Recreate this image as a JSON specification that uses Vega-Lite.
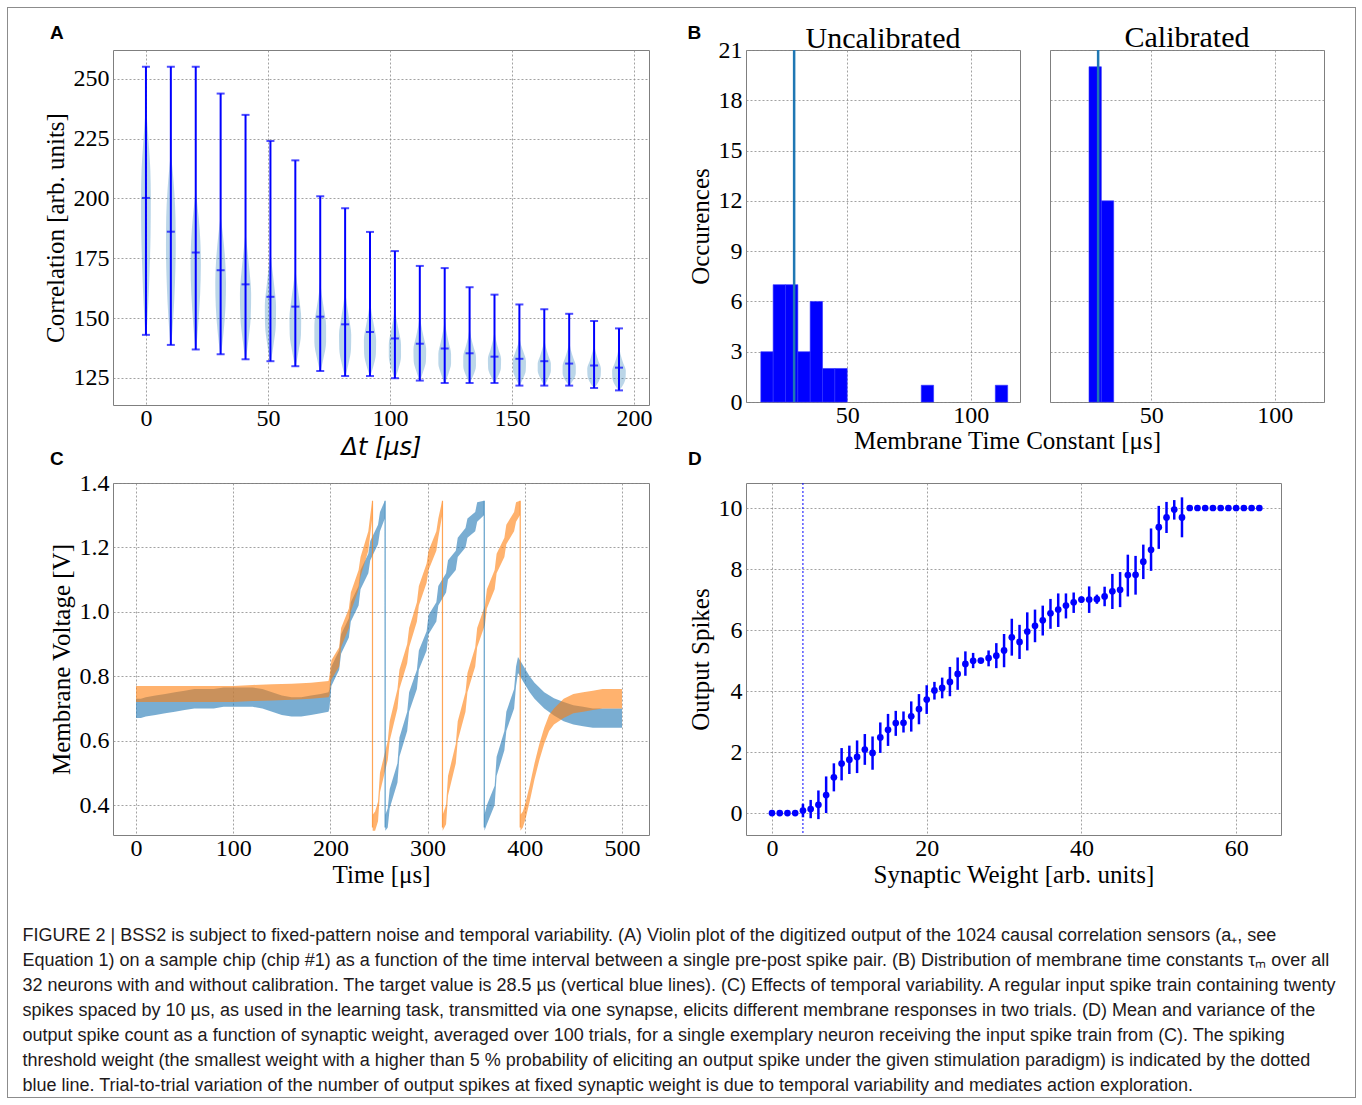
{
  "$schema": "https://vega.github.io/schema/vega-lite/v6.json",
  "padding": {"left": 7, "top": 7, "right": 4, "bottom": 2},
  "background": "white",
  "datasets": {
    "vio": [
      {"t":0,"v":143,"lo":-0.2,"hi":0.2},{"t":0,"v":155,"lo":-0.9,"hi":0.9},{"t":0,"v":170,"lo":-1.5,"hi":1.5},{"t":0,"v":185,"lo":-1.9,"hi":1.9},{"t":0,"v":200,"lo":-2,"hi":2},{"t":0,"v":212,"lo":-1.8,"hi":1.8},{"t":0,"v":222,"lo":-1.2,"hi":1.2},{"t":0,"v":232,"lo":-0.5,"hi":0.5},{"t":0,"v":238,"lo":-0.1,"hi":0.1},
      {"t":10.2,"v":139,"lo":10.0,"hi":10.4},{"t":10.2,"v":150,"lo":9.2,"hi":11.2},{"t":10.2,"v":165,"lo":8.5,"hi":11.9},{"t":10.2,"v":180,"lo":8.2,"hi":12.2},{"t":10.2,"v":192,"lo":8.3,"hi":12.1},{"t":10.2,"v":203,"lo":8.8,"hi":11.6},{"t":10.2,"v":212,"lo":9.5,"hi":10.9},{"t":10.2,"v":218,"lo":10.1,"hi":10.3},
      {"t":20.4,"v":137,"lo":20.2,"hi":20.6},{"t":20.4,"v":147,"lo":19.4,"hi":21.4},{"t":20.4,"v":160,"lo":18.6,"hi":22.2},{"t":20.4,"v":172,"lo":18.3,"hi":22.5},{"t":20.4,"v":182,"lo":18.5,"hi":22.3},{"t":20.4,"v":192,"lo":19.2,"hi":21.6},{"t":20.4,"v":200,"lo":20.0,"hi":20.8},{"t":20.4,"v":204,"lo":20.3,"hi":20.5},
      {"t":30.6,"v":135,"lo":30.4,"hi":30.8},{"t":30.6,"v":144,"lo":29.4,"hi":31.8},{"t":30.6,"v":155,"lo":28.6,"hi":32.6},{"t":30.6,"v":165,"lo":28.4,"hi":32.8},{"t":30.6,"v":175,"lo":28.8,"hi":32.4},{"t":30.6,"v":185,"lo":29.7,"hi":31.5},{"t":30.6,"v":192,"lo":30.5,"hi":30.7},
      {"t":40.8,"v":133,"lo":40.6,"hi":41.0},{"t":40.8,"v":141,"lo":39.6,"hi":42.0},{"t":40.8,"v":150,"lo":38.7,"hi":42.9},{"t":40.8,"v":160,"lo":38.5,"hi":43.1},{"t":40.8,"v":170,"lo":39.2,"hi":42.4},{"t":40.8,"v":178,"lo":40.0,"hi":41.6},{"t":40.8,"v":185,"lo":40.7,"hi":40.9},
      {"t":51,"v":132,"lo":50.8,"hi":51.2},{"t":51,"v":139,"lo":49.7,"hi":52.3},{"t":51,"v":147,"lo":48.8,"hi":53.2},{"t":51,"v":155,"lo":48.7,"hi":53.3},{"t":51,"v":163,"lo":49.4,"hi":52.6},{"t":51,"v":171,"lo":50.3,"hi":51.7},{"t":51,"v":177,"lo":50.9,"hi":51.1},
      {"t":61.2,"v":130,"lo":61.0,"hi":61.4},{"t":61.2,"v":136,"lo":59.9,"hi":62.5},{"t":61.2,"v":143,"lo":58.9,"hi":63.5},{"t":61.2,"v":150,"lo":58.8,"hi":63.6},{"t":61.2,"v":158,"lo":59.6,"hi":62.8},{"t":61.2,"v":164,"lo":60.4,"hi":62.0},{"t":61.2,"v":170,"lo":61.1,"hi":61.3},
      {"t":71.4,"v":128,"lo":71.2,"hi":71.6},{"t":71.4,"v":133,"lo":70.1,"hi":72.7},{"t":71.4,"v":140,"lo":69.0,"hi":73.8},{"t":71.4,"v":147,"lo":69.0,"hi":73.8},{"t":71.4,"v":154,"lo":69.9,"hi":72.9},{"t":71.4,"v":160,"lo":70.8,"hi":72.0},{"t":71.4,"v":165,"lo":71.3,"hi":71.5},
      {"t":81.6,"v":126,"lo":81.4,"hi":81.8},{"t":81.6,"v":131,"lo":80.2,"hi":83.0},{"t":81.6,"v":137,"lo":79.2,"hi":84.0},{"t":81.6,"v":143,"lo":79.1,"hi":84.1},{"t":81.6,"v":150,"lo":80.0,"hi":83.2},{"t":81.6,"v":156,"lo":80.9,"hi":82.3},{"t":81.6,"v":161,"lo":81.5,"hi":81.7},
      {"t":91.8,"v":126,"lo":91.6,"hi":92.0},{"t":91.8,"v":130,"lo":90.4,"hi":93.2},{"t":91.8,"v":135,"lo":89.4,"hi":94.2},{"t":91.8,"v":141,"lo":89.3,"hi":94.3},{"t":91.8,"v":147,"lo":90.2,"hi":93.4},{"t":91.8,"v":152,"lo":91.1,"hi":92.5},{"t":91.8,"v":157,"lo":91.7,"hi":91.9},
      {"t":102,"v":125,"lo":101.8,"hi":102.2},{"t":102,"v":129,"lo":100.5,"hi":103.5},{"t":102,"v":134,"lo":99.5,"hi":104.5},{"t":102,"v":139,"lo":99.5,"hi":104.5},{"t":102,"v":145,"lo":100.5,"hi":103.5},{"t":102,"v":150,"lo":101.4,"hi":102.6},{"t":102,"v":154,"lo":101.9,"hi":102.1},
      {"t":112.2,"v":124,"lo":112.0,"hi":112.4},{"t":112.2,"v":128,"lo":110.7,"hi":113.7},{"t":112.2,"v":132,"lo":109.7,"hi":114.7},{"t":112.2,"v":137,"lo":109.6,"hi":114.8},{"t":112.2,"v":142,"lo":110.6,"hi":113.8},{"t":112.2,"v":147,"lo":111.6,"hi":112.8},{"t":112.2,"v":151,"lo":112.1,"hi":112.3},
      {"t":122.4,"v":123,"lo":122.2,"hi":122.6},{"t":122.4,"v":127,"lo":120.8,"hi":124.0},{"t":122.4,"v":131,"lo":119.8,"hi":125.0},{"t":122.4,"v":135,"lo":119.8,"hi":125.0},{"t":122.4,"v":140,"lo":120.8,"hi":124.0},{"t":122.4,"v":145,"lo":121.8,"hi":123.0},{"t":122.4,"v":149,"lo":122.3,"hi":122.5},
      {"t":132.6,"v":123,"lo":132.4,"hi":132.8},{"t":132.6,"v":126,"lo":131.1,"hi":134.1},{"t":132.6,"v":130,"lo":130.0,"hi":135.2},{"t":132.6,"v":134,"lo":130.0,"hi":135.2},{"t":132.6,"v":138,"lo":131.0,"hi":134.2},{"t":132.6,"v":142,"lo":132.0,"hi":133.2},{"t":132.6,"v":146,"lo":132.5,"hi":132.7},
      {"t":142.8,"v":123,"lo":142.6,"hi":143.0},{"t":142.8,"v":126,"lo":141.2,"hi":144.4},{"t":142.8,"v":129,"lo":140.2,"hi":145.4},{"t":142.8,"v":133,"lo":140.1,"hi":145.5},{"t":142.8,"v":137,"lo":141.2,"hi":144.4},{"t":142.8,"v":141,"lo":142.2,"hi":143.4},{"t":142.8,"v":144,"lo":142.7,"hi":142.9},
      {"t":153,"v":122,"lo":152.8,"hi":153.2},{"t":153,"v":125,"lo":151.4,"hi":154.6},{"t":153,"v":128,"lo":150.4,"hi":155.6},{"t":153,"v":132,"lo":150.3,"hi":155.7},{"t":153,"v":136,"lo":151.4,"hi":154.6},{"t":153,"v":139,"lo":152.4,"hi":153.6},{"t":153,"v":142,"lo":152.9,"hi":153.1},
      {"t":163.2,"v":122,"lo":163.0,"hi":163.4},{"t":163.2,"v":125,"lo":161.5,"hi":164.9},{"t":163.2,"v":128,"lo":160.5,"hi":165.9},{"t":163.2,"v":131,"lo":160.5,"hi":165.9},{"t":163.2,"v":134,"lo":161.4,"hi":165.0},{"t":163.2,"v":138,"lo":162.6,"hi":163.8},{"t":163.2,"v":141,"lo":163.1,"hi":163.3},
      {"t":173.4,"v":122,"lo":173.2,"hi":173.6},{"t":173.4,"v":124,"lo":171.8,"hi":175.0},{"t":173.4,"v":127,"lo":170.7,"hi":176.1},{"t":173.4,"v":130,"lo":170.7,"hi":176.1},{"t":173.4,"v":133,"lo":171.6,"hi":175.2},{"t":173.4,"v":137,"lo":172.8,"hi":174.0},{"t":173.4,"v":140,"lo":173.3,"hi":173.5},
      {"t":183.6,"v":121,"lo":183.4,"hi":183.8},{"t":183.6,"v":123,"lo":182.0,"hi":185.2},{"t":183.6,"v":126,"lo":180.9,"hi":186.3},{"t":183.6,"v":129,"lo":180.8,"hi":186.4},{"t":183.6,"v":132,"lo":181.8,"hi":185.4},{"t":183.6,"v":136,"lo":183.0,"hi":184.2},{"t":183.6,"v":139,"lo":183.5,"hi":183.7},
      {"t":193.8,"v":120,"lo":193.6,"hi":194.0},{"t":193.8,"v":122,"lo":192.2,"hi":195.4},{"t":193.8,"v":125,"lo":191.1,"hi":196.5},{"t":193.8,"v":128,"lo":191.0,"hi":196.6},{"t":193.8,"v":131,"lo":192.0,"hi":195.6},{"t":193.8,"v":135,"lo":193.2,"hi":194.4},{"t":193.8,"v":138,"lo":193.7,"hi":193.9}
    ],
    "stat": [
      {"t":0,"min":143,"max":255,"mean":200.2},
      {"t":10.2,"min":138.8,"max":255,"mean":186.1},
      {"t":20.4,"min":136.9,"max":255,"mean":177.4},
      {"t":30.6,"min":134.9,"max":243.8,"mean":170},
      {"t":40.8,"min":132.8,"max":234.9,"mean":164.1},
      {"t":51,"min":132,"max":224,"mean":158.9},
      {"t":61.2,"min":129.9,"max":215.9,"mean":154.8},
      {"t":71.4,"min":127.9,"max":200.9,"mean":150.6},
      {"t":81.6,"min":125.8,"max":195.9,"mean":147.4},
      {"t":91.8,"min":125.8,"max":186,"mean":144.2},
      {"t":102,"min":124.9,"max":178,"mean":141.5},
      {"t":112.2,"min":123.9,"max":171.8,"mean":139.3},
      {"t":122.4,"min":122.9,"max":170.9,"mean":137.3},
      {"t":132.6,"min":122.9,"max":162.9,"mean":135.3},
      {"t":142.8,"min":122.9,"max":159.8,"mean":133.9},
      {"t":153,"min":121.8,"max":155.7,"mean":133},
      {"t":163.2,"min":121.8,"max":153.7,"mean":132},
      {"t":173.4,"min":121.8,"max":151.8,"mean":131},
      {"t":183.6,"min":120.8,"max":148.8,"mean":130.2},
      {"t":193.8,"min":119.8,"max":145.7,"mean":129.3}
    ],
    "unc": [
      {"a":15,"b":20,"n":3},{"a":20,"b":25,"n":7},{"a":25,"b":30,"n":7},{"a":30,"b":35,"n":3},{"a":35,"b":40,"n":6},{"a":40,"b":45,"n":2},{"a":45,"b":50,"n":2},{"a":80,"b":85,"n":1},{"a":110,"b":115,"n":1}
    ],
    "cal": [
      {"a":24.8,"b":29.8,"n":20},{"a":29.8,"b":34.8,"n":12}
    ],
    "drops": [
      {"t":243.3,"tr":"b2","lo":0.33,"hi":1.345},
      {"t":256.3,"tr":"b1","lo":0.33,"hi":1.345},
      {"t":315.3,"tr":"b2","lo":0.33,"hi":1.345},
      {"t":358.3,"tr":"b1","lo":0.33,"hi":1.345},
      {"t":395.3,"tr":"b2","lo":0.33,"hi":1.345}
    ],
    "c1": [
      {"t":0,"lo":0.67,"hi":0.73},{"t":5,"lo":0.67,"hi":0.73},{"t":10,"lo":0.675,"hi":0.735},{"t":20,"lo":0.68,"hi":0.74},{"t":30,"lo":0.685,"hi":0.745},{"t":40,"lo":0.69,"hi":0.75},{"t":50,"lo":0.695,"hi":0.755},{"t":60,"lo":0.7,"hi":0.76},{"t":70,"lo":0.7,"hi":0.76},{"t":80,"lo":0.7,"hi":0.76},{"t":90,"lo":0.705,"hi":0.765},{"t":100,"lo":0.705,"hi":0.765},{"t":110,"lo":0.705,"hi":0.765},{"t":120,"lo":0.705,"hi":0.765},{"t":130,"lo":0.7,"hi":0.76},{"t":140,"lo":0.69,"hi":0.75},{"t":150,"lo":0.68,"hi":0.74},{"t":160,"lo":0.675,"hi":0.735},{"t":170,"lo":0.675,"hi":0.735},{"t":180,"lo":0.68,"hi":0.74},{"t":190,"lo":0.685,"hi":0.745},{"t":198,"lo":0.69,"hi":0.75},
      {"t":199,"lo":0.7,"hi":0.76},{"t":201,"lo":0.77,"hi":0.83},{"t":209,"lo":0.82,"hi":0.88},{"t":211,"lo":0.87,"hi":0.93},{"t":219,"lo":0.92,"hi":0.98},{"t":221,"lo":0.97,"hi":1.03},{"t":229,"lo":1.02,"hi":1.08},{"t":231,"lo":1.07,"hi":1.13},{"t":239,"lo":1.12,"hi":1.18},{"t":241,"lo":1.16,"hi":1.22},{"t":249,"lo":1.21,"hi":1.27},{"t":251,"lo":1.25,"hi":1.31},{"t":256,"lo":1.29,"hi":1.345},
      {"t":256.5,"lo":0.32,"hi":0.37},{"t":259,"lo":0.33,"hi":0.39},{"t":261,"lo":0.39,"hi":0.45},{"t":269,"lo":0.47,"hi":0.53},{"t":271,"lo":0.55,"hi":0.61},{"t":279,"lo":0.63,"hi":0.69},{"t":281,"lo":0.69,"hi":0.75},{"t":289,"lo":0.76,"hi":0.82},{"t":291,"lo":0.82,"hi":0.88},{"t":299,"lo":0.88,"hi":0.94},{"t":301,"lo":0.93,"hi":0.99},{"t":309,"lo":0.97,"hi":1.03},{"t":311,"lo":1.02,"hi":1.08},{"t":319,"lo":1.06,"hi":1.12},{"t":321,"lo":1.1,"hi":1.16},{"t":329,"lo":1.13,"hi":1.19},{"t":331,"lo":1.17,"hi":1.23},{"t":339,"lo":1.2,"hi":1.26},{"t":341,"lo":1.23,"hi":1.29},{"t":349,"lo":1.25,"hi":1.31},{"t":351,"lo":1.28,"hi":1.34},{"t":358,"lo":1.3,"hi":1.345},
      {"t":358.5,"lo":0.32,"hi":0.37},{"t":361,"lo":0.34,"hi":0.4},{"t":369,"lo":0.4,"hi":0.46},{"t":371,"lo":0.49,"hi":0.55},{"t":379,"lo":0.57,"hi":0.63},{"t":381,"lo":0.63,"hi":0.69},{"t":389,"lo":0.7,"hi":0.76},{"t":391,"lo":0.77,"hi":0.83},{"t":393,"lo":0.81,"hi":0.86},{"t":396,"lo":0.795,"hi":0.845},{"t":400,"lo":0.775,"hi":0.825},{"t":405,"lo":0.75,"hi":0.8},{"t":410,"lo":0.73,"hi":0.78},{"t":420,"lo":0.7,"hi":0.75},{"t":430,"lo":0.678,"hi":0.732},{"t":440,"lo":0.66,"hi":0.72},{"t":450,"lo":0.65,"hi":0.71},{"t":460,"lo":0.645,"hi":0.705},{"t":470,"lo":0.64,"hi":0.7},{"t":480,"lo":0.64,"hi":0.7},{"t":490,"lo":0.64,"hi":0.7},{"t":500,"lo":0.64,"hi":0.7}
    ],
    "c2": [
      {"t":0,"lo":0.72,"hi":0.77},{"t":10,"lo":0.72,"hi":0.77},{"t":20,"lo":0.72,"hi":0.77},{"t":40,"lo":0.72,"hi":0.77},{"t":60,"lo":0.72,"hi":0.77},{"t":80,"lo":0.72,"hi":0.77},{"t":100,"lo":0.72,"hi":0.77},{"t":120,"lo":0.723,"hi":0.773},{"t":140,"lo":0.725,"hi":0.775},{"t":160,"lo":0.727,"hi":0.777},{"t":180,"lo":0.73,"hi":0.78},{"t":198,"lo":0.735,"hi":0.785},
      {"t":199,"lo":0.74,"hi":0.8},{"t":201,"lo":0.79,"hi":0.85},{"t":209,"lo":0.83,"hi":0.89},{"t":211,"lo":0.89,"hi":0.95},{"t":219,"lo":0.95,"hi":1.01},{"t":221,"lo":1.0,"hi":1.06},{"t":229,"lo":1.07,"hi":1.13},{"t":231,"lo":1.11,"hi":1.17},{"t":239,"lo":1.19,"hi":1.25},{"t":241,"lo":1.24,"hi":1.3},{"t":243,"lo":1.29,"hi":1.345},
      {"t":243.5,"lo":0.32,"hi":0.37},{"t":246,"lo":0.32,"hi":0.38},{"t":249,"lo":0.35,"hi":0.41},{"t":251,"lo":0.44,"hi":0.5},{"t":259,"lo":0.54,"hi":0.6},{"t":261,"lo":0.6,"hi":0.66},{"t":269,"lo":0.7,"hi":0.76},{"t":271,"lo":0.76,"hi":0.82},{"t":279,"lo":0.84,"hi":0.9},{"t":281,"lo":0.89,"hi":0.95},{"t":289,"lo":0.97,"hi":1.03},{"t":291,"lo":1.02,"hi":1.08},{"t":299,"lo":1.09,"hi":1.15},{"t":301,"lo":1.13,"hi":1.19},{"t":309,"lo":1.19,"hi":1.25},{"t":311,"lo":1.23,"hi":1.29},{"t":315,"lo":1.3,"hi":1.345},
      {"t":315.5,"lo":0.32,"hi":0.37},{"t":319,"lo":0.34,"hi":0.4},{"t":321,"lo":0.43,"hi":0.49},{"t":329,"lo":0.53,"hi":0.59},{"t":331,"lo":0.6,"hi":0.66},{"t":339,"lo":0.69,"hi":0.75},{"t":341,"lo":0.75,"hi":0.81},{"t":349,"lo":0.83,"hi":0.89},{"t":351,"lo":0.89,"hi":0.95},{"t":359,"lo":0.96,"hi":1.02},{"t":361,"lo":1.01,"hi":1.07},{"t":369,"lo":1.07,"hi":1.13},{"t":371,"lo":1.12,"hi":1.18},{"t":379,"lo":1.17,"hi":1.23},{"t":381,"lo":1.21,"hi":1.27},{"t":389,"lo":1.25,"hi":1.31},{"t":391,"lo":1.28,"hi":1.34},{"t":395,"lo":1.3,"hi":1.345},
      {"t":395.5,"lo":0.32,"hi":0.37},{"t":398,"lo":0.33,"hi":0.38},{"t":401,"lo":0.36,"hi":0.41},{"t":405,"lo":0.41,"hi":0.46},{"t":410,"lo":0.48,"hi":0.53},{"t":415,"lo":0.54,"hi":0.59},{"t":420,"lo":0.59,"hi":0.64},{"t":425,"lo":0.63,"hi":0.68},{"t":430,"lo":0.65,"hi":0.7},{"t":440,"lo":0.67,"hi":0.73},{"t":450,"lo":0.685,"hi":0.745},{"t":460,"lo":0.69,"hi":0.75},{"t":470,"lo":0.695,"hi":0.755},{"t":480,"lo":0.7,"hi":0.76},{"t":490,"lo":0.7,"hi":0.76},{"t":500,"lo":0.7,"hi":0.76}
    ],
    "d": [
      {"w":0,"m":0,"lo":0,"hi":0},{"w":1,"m":0,"lo":0,"hi":0},{"w":2,"m":0,"lo":0,"hi":0},{"w":3,"m":0,"lo":0,"hi":0},
      {"w":4,"m":0.08,"lo":-0.14,"hi":0.3},{"w":5,"m":0.13,"lo":-0.17,"hi":0.43},{"w":6,"m":0.27,"lo":-0.2,"hi":0.74},{"w":7,"m":0.59,"lo":0,"hi":1.2},
      {"w":8,"m":1.17,"lo":0.71,"hi":1.63},{"w":9,"m":1.62,"lo":1.07,"hi":2.13},{"w":10,"m":1.75,"lo":1.28,"hi":2.21},{"w":11,"m":1.84,"lo":1.31,"hi":2.38},
      {"w":12,"m":2.08,"lo":1.58,"hi":2.59},{"w":13,"m":1.97,"lo":1.42,"hi":2.51},{"w":14,"m":2.48,"lo":1.97,"hi":2.97},{"w":15,"m":2.73,"lo":2.2,"hi":3.25},
      {"w":16,"m":2.95,"lo":2.53,"hi":3.35},{"w":17,"m":2.96,"lo":2.64,"hi":3.33},{"w":18,"m":3.17,"lo":2.67,"hi":3.66},{"w":19,"m":3.41,"lo":2.91,"hi":3.9},
      {"w":20,"m":3.72,"lo":3.25,"hi":4.19},{"w":21,"m":4.02,"lo":3.72,"hi":4.3},{"w":22,"m":4.1,"lo":3.76,"hi":4.44},{"w":23,"m":4.3,"lo":3.83,"hi":4.79},
      {"w":24,"m":4.56,"lo":4.04,"hi":5.1},{"w":25,"m":4.89,"lo":4.5,"hi":5.3},{"w":26,"m":4.99,"lo":4.75,"hi":5.25},{"w":27,"m":5.0,"lo":4.92,"hi":5.08},
      {"w":28,"m":5.08,"lo":4.81,"hi":5.33},{"w":29,"m":5.16,"lo":4.75,"hi":5.57},{"w":30,"m":5.33,"lo":4.78,"hi":5.87},{"w":31,"m":5.76,"lo":5.16,"hi":6.37},
      {"w":32,"m":5.61,"lo":5.05,"hi":6.17},{"w":33,"m":5.95,"lo":5.33,"hi":6.58},{"w":34,"m":6.14,"lo":5.6,"hi":6.67},{"w":35,"m":6.32,"lo":5.82,"hi":6.8},
      {"w":36,"m":6.55,"lo":6.04,"hi":7.02},{"w":37,"m":6.67,"lo":6.1,"hi":7.2},{"w":38,"m":6.8,"lo":6.38,"hi":7.2},{"w":39,"m":6.91,"lo":6.56,"hi":7.23},
      {"w":40,"m":7.0,"lo":6.89,"hi":7.1},{"w":41,"m":7.0,"lo":6.56,"hi":7.43},{"w":42,"m":7.01,"lo":6.86,"hi":7.16},{"w":43,"m":7.1,"lo":6.78,"hi":7.42},
      {"w":44,"m":7.27,"lo":6.69,"hi":7.84},{"w":45,"m":7.32,"lo":6.75,"hi":7.9},{"w":46,"m":7.8,"lo":7.1,"hi":8.47},{"w":47,"m":7.81,"lo":7.16,"hi":8.43},
      {"w":48,"m":8.24,"lo":7.67,"hi":8.8},{"w":49,"m":8.63,"lo":7.94,"hi":9.33},{"w":50,"m":9.37,"lo":8.66,"hi":10.07},{"w":51,"m":9.69,"lo":9.18,"hi":10.2},
      {"w":52,"m":9.95,"lo":9.62,"hi":10.26},{"w":53,"m":9.69,"lo":9.04,"hi":10.35},{"w":54,"m":10,"lo":10,"hi":10},{"w":55,"m":10,"lo":10,"hi":10},
      {"w":56,"m":10,"lo":10,"hi":10},{"w":57,"m":10,"lo":9.95,"hi":10.05},{"w":58,"m":10,"lo":10,"hi":10},{"w":59,"m":10,"lo":10,"hi":10},
      {"w":60,"m":10,"lo":9.96,"hi":10.04},{"w":61,"m":10,"lo":10,"hi":10},{"w":62,"m":10,"lo":10,"hi":10},{"w":63,"m":10,"lo":10,"hi":10}
    ]
  },
  "spacing": 0,
  "bounds": "flush",
  "vconcat": [
    {
      "width": 1349,
      "height": 1,
      "data": {"values": []},
      "mark": "point",
      "view": {"fill": "#8c8c8c", "stroke": null}
    },
    {
      "spacing": 1089,
      "bounds": "flush",
      "vconcat": [
        {
          "spacing": 105,
          "bounds": "flush",
          "hconcat": [
            {
              "width": 1,
              "height": 1090,
              "data": {"values": []},
              "mark": "point",
              "view": {"fill": "#8c8c8c", "stroke": null}
            },
            {
              "spacing": 1242,
              "bounds": "flush",
              "hconcat": [
                {
                  "spacing": 41,
                  "bounds": "flush",
                  "vconcat": [
                    {
                      "width": 1,
                      "height": 1,
                      "data": {"values": []},
                      "mark": "point",
                      "view": {"stroke": null}
                    },
                    {
                      "title": {
                        "text": [
                          "FIGURE 2 | BSS2 is subject to fixed-pattern noise and temporal variability. (A) Violin plot of the digitized output of the 1024 causal correlation sensors (a₊, see",
                          "Equation 1) on a sample chip (chip #1) as a function of the time interval between a single pre-post spike pair. (B) Distribution of membrane time constants τₘ over all",
                          "32 neurons with and without calibration. The target value is 28.5 µs (vertical blue lines). (C) Effects of temporal variability. A regular input spike train containing twenty",
                          "spikes spaced by 10 µs, as used in the learning task, transmitted via one synapse, elicits different membrane responses in two trials. (D) Mean and variance of the",
                          "output spike count as a function of synaptic weight, averaged over 100 trials, for a single exemplary neuron receiving the input spike train from (C). The spiking",
                          "threshold weight (the smallest weight with a higher than 5 % probability of eliciting an output spike under the given stimulation paradigm) is indicated by the dotted",
                          "blue line. Trial-to-trial variation of the number of output spikes at fixed synaptic weight is due to temporal variability and mediates action exploration."
                        ],
                        "orient": "bottom",
                        "anchor": "start",
                        "frame": "bounds",
                        "font": "Liberation Sans",
                        "fontSize": 18,
                        "fontWeight": "normal",
                        "color": "#1e1a1b",
                        "lineHeight": 25,
                        "baseline": "top",
                        "offset": 39,
                        "dx": -20
                      },
                      "columns": 2,
                      "spacing": {"row": 78, "column": 97},
                      "bounds": "flush",
                      "concat": [
                        {
                          "width": 536,
                          "height": 355,
                          "title": {"text": "A", "anchor": "start", "frame": "group", "dx": -63, "offset": 7, "font": "Liberation Sans", "fontSize": 19, "fontWeight": "bold", "color": "#000"},
                          "layer": [
                            {
                              "data": {"name": "vio"},
                              "mark": {"type": "area", "orient": "horizontal", "color": "#1f77b4", "opacity": 0.3, "interpolate": "monotone"},
                              "encoding": {
                                "y": {"field": "v", "type": "quantitative", "title": "Correlation [arb. units]", "scale": {"domain": [113.7, 262], "nice": false, "zero": false}, "axis": {"values": [125, 150, 175, 200, 225, 250]}},
                                "x": {"field": "lo", "type": "quantitative", "title": "Δt [μs]", "scale": {"domain": [-13.5, 206.1], "nice": false, "zero": false}, "axis": {"values": [0, 50, 100, 150, 200], "titleFont": "DejaVu Sans", "titleFontStyle": "italic", "titleFontSize": 24, "titlePadding": 5}},
                                "x2": {"field": "hi"},
                                "detail": {"field": "t", "type": "nominal"}
                              }
                            },
                            {
                              "data": {"name": "stat"},
                              "mark": {"type": "rule", "color": "#0000ff", "strokeWidth": 2},
                              "encoding": {
                                "x": {"field": "t", "type": "quantitative", "title": "Δt [μs]"},
                                "y": {"field": "min", "type": "quantitative", "title": "Correlation [arb. units]"},
                                "y2": {"field": "max"}
                              }
                            },
                            {
                              "data": {"name": "stat"},
                              "transform": [{"fold": ["min", "max", "mean"], "as": ["k", "val"]}],
                              "mark": {"type": "tick", "orient": "horizontal", "color": "#0000ff", "size": 8, "thickness": 2},
                              "encoding": {
                                "x": {"field": "t", "type": "quantitative", "title": "Δt [μs]"},
                                "y": {"field": "val", "type": "quantitative", "title": "Correlation [arb. units]"}
                              }
                            }
                          ]
                        },
                        {
                          "title": {"text": "B", "anchor": "start", "frame": "bounds", "dy": 25, "font": "Liberation Sans", "fontSize": 19, "fontWeight": "bold", "color": "#000"},
                          "spacing": 30,
                          "bounds": "flush",
                          "hconcat": [
                            {
                              "width": 274,
                              "height": 352,
                              "title": {"text": "Uncalibrated", "anchor": "middle", "offset": -16, "font": "Liberation Serif", "fontSize": 30, "fontWeight": "normal", "color": "#000"},
                              "layer": [
                                {
                                  "data": {"name": "unc"},
                                  "mark": {"type": "rect", "color": "#0000ff", "stroke": "#3030ff", "strokeWidth": 0.6},
                                  "encoding": {
                                    "x": {"field": "a", "type": "quantitative", "title": "Membrane Time Constant [μs]", "scale": {"domain": [9, 120], "nice": false, "zero": false}, "axis": {"values": [50, 100], "titleX": 261, "titleAlign": "center", "titlePadding": 1}},
                                    "x2": {"field": "b"},
                                    "y": {"field": "n", "type": "quantitative", "title": "Occurences", "scale": {"domain": [0, 21], "nice": false}, "axis": {"values": [0, 3, 6, 9, 12, 15, 18, 21]}},
                                    "y2": {"datum": 0}
                                  }
                                },
                                {
                                  "data": {"values": [{}]},
                                  "mark": {"type": "rule", "color": "#1f77b4", "strokeWidth": 2.5},
                                  "encoding": {"x": {"datum": 28.5, "type": "quantitative"}}
                                }
                              ]
                            },
                            {
                              "width": 274,
                              "height": 352,
                              "title": {"text": "Calibrated", "anchor": "middle", "offset": -4, "font": "Liberation Serif", "fontSize": 30, "fontWeight": "normal", "color": "#000"},
                              "layer": [
                                {
                                  "data": {"name": "cal"},
                                  "mark": {"type": "rect", "color": "#0000ff", "stroke": "#3030ff", "strokeWidth": 0.6},
                                  "encoding": {
                                    "x": {"field": "a", "type": "quantitative", "title": null, "scale": {"domain": [9, 120], "nice": false, "zero": false}, "axis": {"values": [50, 100]}},
                                    "x2": {"field": "b"},
                                    "y": {"field": "n", "type": "quantitative", "title": null, "scale": {"domain": [0, 21], "nice": false}, "axis": {"values": [0, 3, 6, 9, 12, 15, 18, 21], "labels": false}},
                                    "y2": {"datum": 0}
                                  }
                                },
                                {
                                  "data": {"values": [{}]},
                                  "mark": {"type": "rule", "color": "#1f77b4", "strokeWidth": 2.5},
                                  "encoding": {"x": {"datum": 28.5, "type": "quantitative"}}
                                }
                              ]
                            }
                          ]
                        },
                        {
                          "width": 536,
                          "height": 352,
                          "title": {"text": "C", "anchor": "start", "frame": "group", "dx": -63, "offset": 2, "font": "Liberation Sans", "fontSize": 19, "fontWeight": "bold", "color": "#000"},
                          "layer": [
                            {
                              "data": {"name": "c1"},
                              "mark": {"type": "area", "color": "#1f77b4", "opacity": 0.6},
                              "encoding": {
                                "x": {"field": "t", "type": "quantitative", "title": "Time [μs]", "scale": {"domain": [-23.7, 527.8], "nice": false, "zero": false}, "axis": {"values": [0, 100, 200, 300, 400, 500], "titlePadding": 2}},
                                "y": {"field": "lo", "type": "quantitative", "title": "Membrane Voltage [V]", "scale": {"domain": [0.307, 1.4], "nice": false, "zero": false}, "axis": {"values": [0.4, 0.6, 0.8, 1.0, 1.2, 1.4], "format": ".1f"}},
                                "y2": {"field": "hi"}
                              }
                            },
                            {
                              "data": {"name": "c2"},
                              "mark": {"type": "area", "color": "#ff7f0e", "opacity": 0.6},
                              "encoding": {
                                "x": {"field": "t", "type": "quantitative", "title": "Time [μs]"},
                                "y": {"field": "lo", "type": "quantitative", "title": "Membrane Voltage [V]"},
                                "y2": {"field": "hi"}
                              }
                            },
                            {
                              "data": {"name": "drops"},
                              "mark": {"type": "rule", "strokeWidth": 1.2, "opacity": 0.7},
                              "encoding": {
                                "x": {"field": "t", "type": "quantitative", "title": "Time [μs]"},
                                "y": {"field": "lo", "type": "quantitative", "title": "Membrane Voltage [V]"},
                                "y2": {"field": "hi"},
                                "color": {"field": "tr", "type": "nominal", "scale": {"domain": ["b1", "b2"], "range": ["#1f77b4", "#ff7f0e"]}, "legend": null}
                              }
                            }
                          ]
                        },
                        {
                          "width": 535,
                          "height": 352,
                          "title": {"text": "D", "anchor": "start", "frame": "group", "dx": -58, "offset": 14, "font": "Liberation Sans", "fontSize": 19, "fontWeight": "bold", "color": "#000"},
                          "layer": [
                            {
                              "data": {"values": [{}]},
                              "mark": {"type": "rule", "color": "#0000ff", "strokeDash": [2, 2], "strokeWidth": 1},
                              "encoding": {"x": {"datum": 4, "type": "quantitative"}}
                            },
                            {
                              "data": {"name": "d"},
                              "mark": {"type": "rule", "color": "#0000ff", "strokeWidth": 2.5},
                              "encoding": {
                                "x": {"field": "w", "type": "quantitative", "title": "Synaptic Weight [arb. units]", "scale": {"domain": [-3.36, 65.8], "nice": false, "zero": false}, "axis": {"values": [0, 20, 40, 60], "titlePadding": 2}},
                                "y": {"field": "lo", "type": "quantitative", "title": "Output Spikes", "scale": {"domain": [-0.72, 10.82], "nice": false, "zero": false}, "axis": {"values": [0, 2, 4, 6, 8, 10]}},
                                "y2": {"field": "hi"}
                              }
                            },
                            {
                              "data": {"name": "d"},
                              "mark": {"type": "circle", "color": "#0000ff", "size": 45, "opacity": 1},
                              "encoding": {
                                "x": {"field": "w", "type": "quantitative", "title": "Synaptic Weight [arb. units]"},
                                "y": {"field": "m", "type": "quantitative", "title": "Output Spikes"}
                              }
                            }
                          ]
                        }
                      ]
                    }
                  ]
                },
                {
                  "width": 1,
                  "height": 1090,
                  "data": {"values": []},
                  "mark": "point",
                  "view": {"fill": "#8c8c8c", "stroke": null}
                }
              ]
            }
          ]
        },
        {
          "width": 1349,
          "height": 1,
          "data": {"values": []},
          "mark": "point",
          "view": {"fill": "#8c8c8c", "stroke": null}
        }
      ]
    }
  ],
  "config": {
    "view": {"stroke": "#7f7f7f", "strokeWidth": 1},
    "axis": {
      "labelFont": "Liberation Serif",
      "labelFontSize": 24,
      "labelColor": "#000",
      "titleFont": "Liberation Serif",
      "titleFontSize": 25,
      "titleFontWeight": "normal",
      "titleColor": "#000",
      "ticks": false,
      "domain": false,
      "grid": true,
      "gridColor": "#8a8a8a",
      "gridDash": [2, 2],
      "gridWidth": 0.8,
      "labelPadding": 4,
      "titlePadding": 5,
      "labelFlush": false,
      "labelOverlap": false
    },
    "axisX": {"labelPadding": 1}
  }
}
